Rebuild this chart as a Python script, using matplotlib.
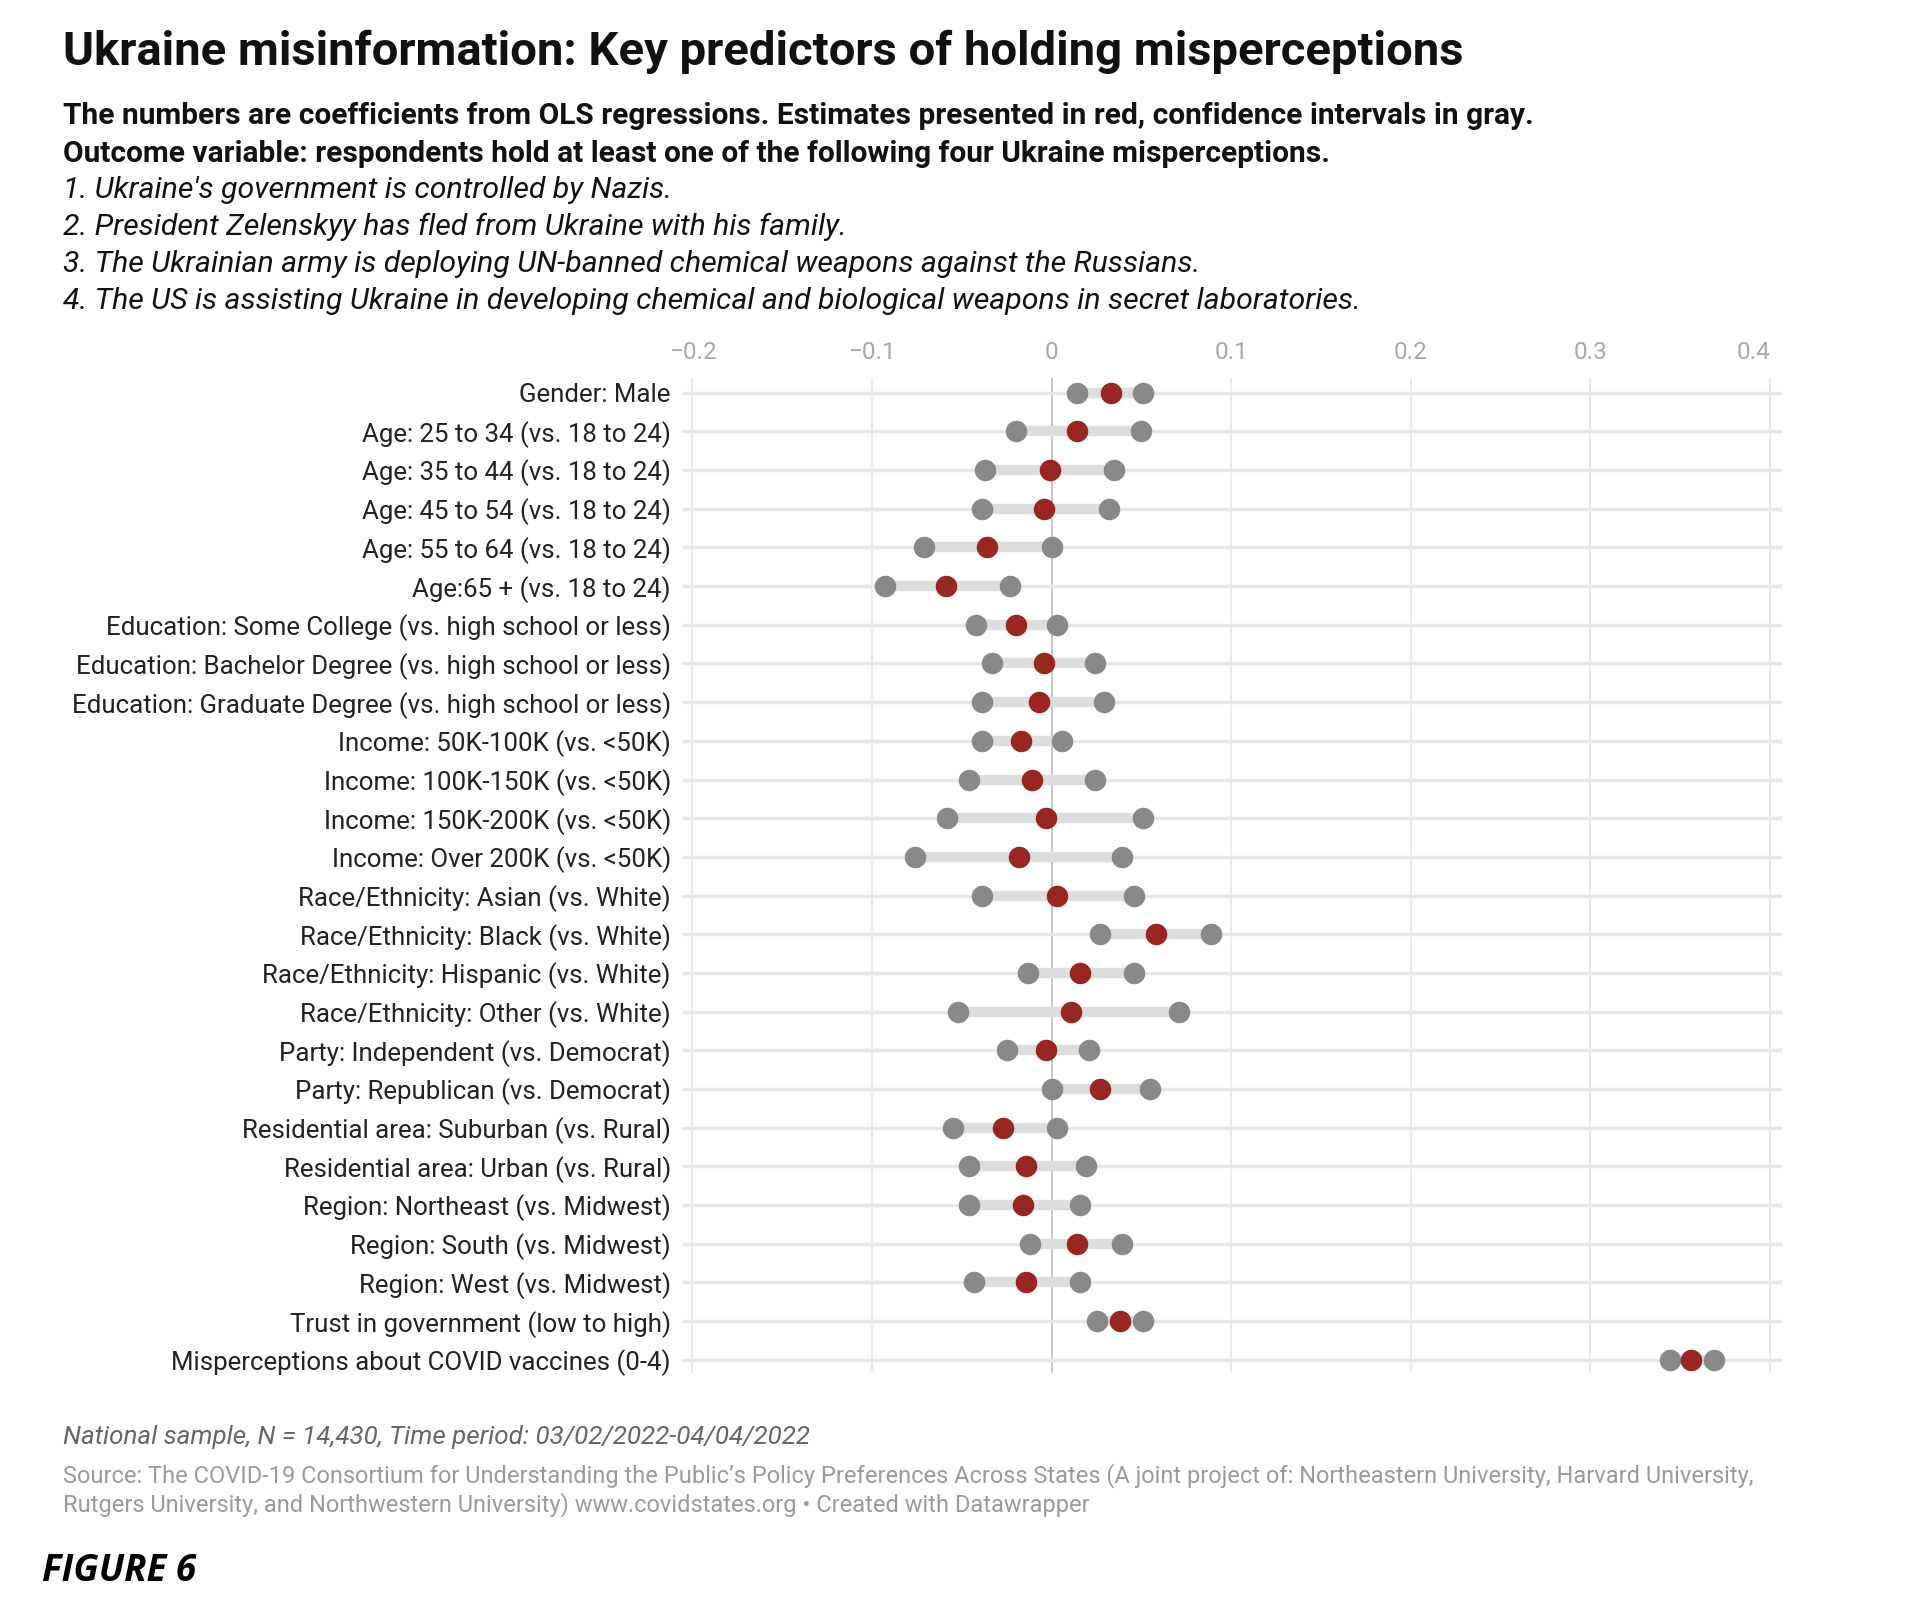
import matplotlib.pyplot as plt
import numpy as np

plt.rcParams['font.family'] = ['Roboto', 'DejaVu Sans']

# --- data ---
labels = [
    "Gender: Male",
    "Age: 25 to 34 (vs. 18 to 24)",
    "Age: 35 to 44 (vs. 18 to 24)",
    "Age: 45 to 54 (vs. 18 to 24)",
    "Age: 55 to 64 (vs. 18 to 24)",
    "Age:65 + (vs. 18 to 24)",
    "Education: Some College (vs. high school or less)",
    "Education: Bachelor Degree (vs. high school or less)",
    "Education: Graduate Degree (vs. high school or less)",
    "Income: 50K-100K (vs. <50K)",
    "Income: 100K-150K (vs. <50K)",
    "Income: 150K-200K (vs. <50K)",
    "Income: Over 200K (vs. <50K)",
    "Race/Ethnicity: Asian (vs. White)",
    "Race/Ethnicity: Black (vs. White)",
    "Race/Ethnicity: Hispanic (vs. White)",
    "Race/Ethnicity: Other (vs. White)",
    "Party: Independent (vs. Democrat)",
    "Party: Republican (vs. Democrat)",
    "Residential area: Suburban (vs. Rural)",
    "Residential area: Urban (vs. Rural)",
    "Region: Northeast (vs. Midwest)",
    "Region: South (vs. Midwest)",
    "Region: West (vs. Midwest)",
    "Trust in government (low to high)",
    "Misperceptions about COVID vaccines (0-4)",
]
ci_low = [0.014, -0.020, -0.037, -0.039, -0.071, -0.093, -0.042, -0.033, -0.039,
          -0.039, -0.046, -0.058, -0.076, -0.039, 0.027, -0.013, -0.052, -0.025,
          0.000, -0.055, -0.046, -0.046, -0.012, -0.043, 0.025, 0.344]
estimate = [0.033, 0.014, -0.001, -0.004, -0.036, -0.059, -0.020, -0.004, -0.007,
            -0.017, -0.011, -0.003, -0.018, 0.003, 0.058, 0.016, 0.011, -0.003,
            0.027, -0.027, -0.014, -0.016, 0.014, -0.014, 0.038, 0.356]
ci_high = [0.051, 0.050, 0.035, 0.032, 0.000, -0.023, 0.003, 0.024, 0.029,
           0.006, 0.024, 0.051, 0.039, 0.046, 0.089, 0.046, 0.071, 0.021,
           0.055, 0.003, 0.019, 0.016, 0.039, 0.016, 0.051, 0.369]
xticks = [-0.2, -0.1, 0, 0.1, 0.2, 0.3, 0.4]
xtick_labels = ["\u22120.2", "\u22120.1", "0", "0.1", "0.2", "0.3", "0.4"]

GRAY_DOT = "#898989"
RED_DOT = "#9a2621"
BAR = "#dddddd"
XMIN, XMAX = -0.2058, 0.4066

fig = plt.figure(figsize=(19.2, 16), dpi=100)
ax = fig.add_axes([0.3552, 0.1419, 0.5729, 0.6221])

y = np.arange(len(labels))
ax.set_xlim(XMIN, XMAX)
ax.set_ylim(len(labels) - 0.66, -0.39)

# grid
for t in xticks:
    ax.axvline(t, color="#bdbdbd" if t == 0 else "#e6e6e6", lw=1.2, zorder=0)
ax.hlines(y, XMIN, XMAX, color="#e8e8e8", lw=2.5, zorder=1)

# ranges and dots
ax.hlines(y, ci_low, ci_high, color=BAR, lw=7.5, zorder=2)
ax.plot(ci_low, y, 'o', color=GRAY_DOT, ms=15.5, mew=0, zorder=3)
ax.plot(ci_high, y, 'o', color=GRAY_DOT, ms=15.5, mew=0, zorder=3)
ax.plot(estimate, y, 'o', color=RED_DOT, ms=15.5, mew=0, zorder=4)

ax.set_yticks(y)
ax.set_yticklabels(labels, fontsize=18.6, color="#222222")
ax.set_xticks(xticks)
ax.set_xticklabels(xtick_labels, fontsize=17.5, color="#a8a8a8")
ax.xaxis.tick_top()
ax.tick_params(axis='both', length=0)
ax.tick_params(axis='y', pad=8)
ax.tick_params(axis='x', pad=9.5)
ax.xaxis.get_major_ticks()[-1].label2.set_ha('right')
for s in ax.spines.values():
    s.set_visible(False)

# titles
fig.text(0.033, 0.9675, "Ukraine misinformation: Key predictors of holding misperceptions",
         fontsize=34, fontweight='bold', va='center', color="#111111")
fig.text(0.033, 0.9275, "The numbers are coefficients from OLS regressions. Estimates presented in red, confidence intervals in gray.",
         fontsize=21.5, fontweight='bold', va='center', color="#111111")
fig.text(0.033, 0.9035, "Outcome variable: respondents hold at least one of the following four Ukraine misperceptions.",
         fontsize=21.5, fontweight='bold', va='center', color="#111111")
items = [
    "Ukraine's government is controlled by Nazis.",
    "President Zelenskyy has fled from Ukraine with his family.",
    "The Ukrainian army is deploying UN-banned chemical weapons against the Russians.",
    "The US is assisting Ukraine in developing chemical and biological weapons in secret laboratories.",
]
for i, it in enumerate(items):
    fig.text(0.033, 0.8814 - i * 0.0231, f"{i + 1}. {it}", fontsize=21.8,
             style='italic', va='center', color="#111111")

# footer
fig.text(0.033, 0.1021, "National sample, N = 14,430, Time period: 03/02/2022-04/04/2022",
         fontsize=18.7, style='italic', va='center', color="#666666")
fig.text(0.033, 0.0777, "Source: The COVID-19 Consortium for Understanding the Public\u2019s Policy Preferences Across States (A joint project of: Northeastern University, Harvard University,",
         fontsize=17, va='center', color="#9a9a9a")
fig.text(0.033, 0.0597, "Rutgers University, and Northwestern University) www.covidstates.org \u2022 Created with Datawrapper",
         fontsize=17, va='center', color="#9a9a9a")
fig.text(0.022, 0.018, "FIGURE 6", fontsize=26.5, fontweight='bold', style='italic',
         va='center', color="#000000", family=['Open Sans', 'DejaVu Sans'])

fig.savefig("out.png", dpi=100, facecolor="white")
